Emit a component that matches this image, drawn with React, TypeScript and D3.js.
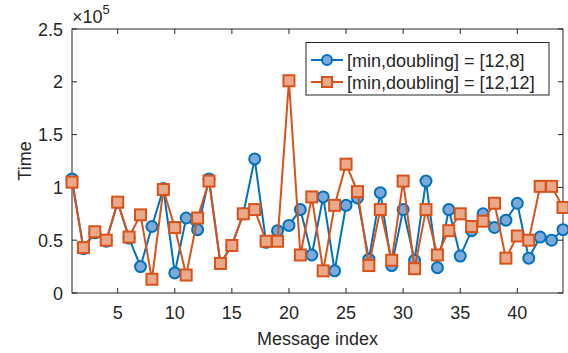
import React, { useRef, useEffect } from "react";
import * as d3 from "d3";

const seriesNames = ["[min,doubling] = [12,8]", "[min,doubling] = [12,12]"];

// message time, in units of 1e5
const timeA = [
  1.08, 0.42, 0.57, 0.49, 0.86, 0.52, 0.25, 0.63, 0.99, 0.19, 0.71, 0.6, 1.08, 0.28, 0.45,
  0.75, 1.27, 0.48, 0.59, 0.64, 0.79, 0.36, 0.91, 0.21, 0.83, 0.9, 0.32, 0.95, 0.26, 0.79,
  0.31, 1.06, 0.24, 0.79, 0.35, 0.59, 0.75, 0.62, 0.69, 0.85, 0.33, 0.53, 0.5, 0.6,
];
const timeB = [
  1.05, 0.43, 0.58, 0.5, 0.86, 0.53, 0.74, 0.13, 0.98, 0.62, 0.17, 0.71, 1.06, 0.28, 0.45,
  0.75, 0.79, 0.49, 0.49, 2.01, 0.36, 0.91, 0.21, 0.83, 1.22, 0.96, 0.26, 0.79, 0.31, 1.06,
  0.23, 0.79, 0.36, 0.59, 0.75, 0.63, 0.68, 0.85, 0.33, 0.54, 0.5, 1.01, 1.01, 0.81,
];
const xTicks = [5, 10, 15, 20, 25, 30, 35, 40];
const yTicks = [0, 0.5, 1, 1.5, 2, 2.5];

const App = () => {
  const svgRef = useRef(null);

  useEffect(() => {
    const width = 568, height = 353;
    const margin = { top: 29, right: 5, bottom: 60, left: 72 };
    const font = "'Liberation Sans', Arial, Helvetica, sans-serif";
    const axisColor = "#262626";

    const svg = d3.select(svgRef.current)
      .attr("width", width)
      .attr("height", height)
      .style("background", "#fff")
      .style("font-family", font);
    svg.selectAll("*").remove();

    const x = d3.scaleLinear().domain([1, timeA.length]).range([margin.left, width - margin.right]);
    const y = d3.scaleLinear().domain([0, 2.5]).range([height - margin.bottom, margin.top]);
    const x0 = margin.left, x1 = width - margin.right;
    const y0 = height - margin.bottom, y1 = margin.top;

    // axes box + inward ticks
    const g = svg.append("g");
    g.append("rect")
      .attr("x", x0).attr("y", y1)
      .attr("width", x1 - x0).attr("height", y0 - y1)
      .attr("fill", "none").attr("stroke", axisColor).attr("stroke-width", 1);
    xTicks.forEach(t => {
      g.append("line").attr("x1", x(t)).attr("x2", x(t)).attr("y1", y0).attr("y2", y0 - 5)
        .attr("stroke", axisColor);
      g.append("line").attr("x1", x(t)).attr("x2", x(t)).attr("y1", y1).attr("y2", y1 + 5)
        .attr("stroke", axisColor);
      g.append("text").attr("x", x(t)).attr("y", y0 + 26)
        .attr("text-anchor", "middle").attr("font-size", 18).attr("fill", axisColor)
        .text(t);
    });
    yTicks.forEach(t => {
      g.append("line").attr("x1", x0).attr("x2", x0 + 5).attr("y1", y(t)).attr("y2", y(t))
        .attr("stroke", axisColor);
      g.append("line").attr("x1", x1).attr("x2", x1 - 5).attr("y1", y(t)).attr("y2", y(t))
        .attr("stroke", axisColor);
      g.append("text").attr("x", x0 - 9).attr("y", y(t) + 6.5)
        .attr("text-anchor", "end").attr("font-size", 18).attr("fill", axisColor)
        .text(t);
    });

    // exponent label
    const ex = g.append("text").attr("x", x0).attr("y", 23).attr("font-size", 18).attr("fill", axisColor);
    ex.append("tspan").text("\u00d710");
    ex.append("tspan").attr("dy", -9).attr("font-size", 13).text("5");

    // axis labels
    svg.append("text").attr("x", (x0 + x1) / 2).attr("y", 345)
      .attr("text-anchor", "middle").attr("font-size", 18).attr("fill", axisColor)
      .text("Message index");
    svg.append("text")
      .attr("transform", `translate(31,${(y0 + y1) / 2}) rotate(-90)`)
      .attr("text-anchor", "middle").attr("font-size", 18).attr("fill", axisColor)
      .text("Time");

    const line = d3.line<number>().x((d, i) => x(i + 1)).y(d => y(d));

    const blue = "#0072BD", blueFace = "#7BA9D9";
    const orange = "#D95319", orangeFace = "#EBA98B";

    // series A: circles
    svg.append("path").datum(timeA).attr("d", line)
      .attr("fill", "none").attr("stroke", blue).attr("stroke-width", 2);
    svg.append("g").selectAll("circle").data(timeA).enter().append("circle")
      .attr("cx", (d, i) => x(i + 1)).attr("cy", d => y(d)).attr("r", 5.5)
      .attr("fill", blueFace).attr("stroke", blue).attr("stroke-width", 2);

    // series B: squares
    svg.append("path").datum(timeB).attr("d", line)
      .attr("fill", "none").attr("stroke", orange).attr("stroke-width", 2);
    svg.append("g").selectAll("rect").data(timeB).enter().append("rect")
      .attr("x", (d, i) => x(i + 1) - 5.5).attr("y", d => y(d) - 5.5)
      .attr("width", 11).attr("height", 11)
      .attr("fill", orangeFace).attr("stroke", orange).attr("stroke-width", 2);

    // legend
    const lg = svg.append("g");
    lg.append("rect").attr("x", 306).attr("y", 42.5).attr("width", 243).attr("height", 52.5)
      .attr("fill", "#fff").attr("stroke", axisColor).attr("stroke-width", 1);
    const rows = [
      { name: seriesNames[0], color: blue, face: blueFace, shape: "circle", cy: 60 },
      { name: seriesNames[1], color: orange, face: orangeFace, shape: "square", cy: 82 },
    ];
    rows.forEach(r => {
      lg.append("line").attr("x1", 311).attr("x2", 343).attr("y1", r.cy).attr("y2", r.cy)
        .attr("stroke", r.color).attr("stroke-width", 2);
      if (r.shape === "circle") {
        lg.append("circle").attr("cx", 327).attr("cy", r.cy).attr("r", 5)
          .attr("fill", r.face).attr("stroke", r.color).attr("stroke-width", 2);
      } else {
        lg.append("rect").attr("x", 322).attr("y", r.cy - 5).attr("width", 10).attr("height", 10)
          .attr("fill", r.face).attr("stroke", r.color).attr("stroke-width", 2);
      }
      lg.append("text").attr("x", 347).attr("y", r.cy + 6.5)
        .attr("font-size", 18).attr("fill", axisColor).text(r.name);
    });
  }, []);

  return (
    <div style={{ position: "absolute", left: 0, top: 0 }}>
      <svg ref={svgRef}></svg>
    </div>
  );
};

export default App;
